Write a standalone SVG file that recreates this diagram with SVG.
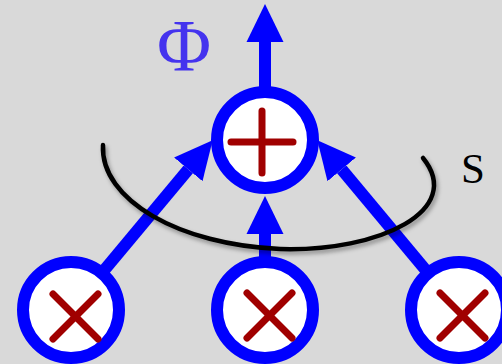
<svg xmlns="http://www.w3.org/2000/svg" width="502" height="364" viewBox="0 0 502 364">
<style>
.shaft{stroke:#0000ff;stroke-width:12;fill:none}
.node{fill:#ffffff;stroke:#0000ff;stroke-width:12}
.mark{stroke:#a00000;stroke-width:7;stroke-linecap:round;fill:none}
.lbl{font-family:"Liberation Serif","Times New Roman",serif}
</style>
<defs>
<marker id="head" markerUnits="userSpaceOnUse" markerWidth="38" markerHeight="38" viewBox="0 -18 37 36" refX="0" refY="0" orient="auto">
<path d="M0,-18 L37,0 L0,18 Z" fill="#0000ff"/>
</marker>
<filter id="shadow" x="-10%" y="-10%" width="120%" height="130%">
<feDropShadow dx="2" dy="3" stdDeviation="2" flood-color="#000" flood-opacity="0.35"/>
</filter>
</defs>
<rect width="502" height="364" fill="#d9d9d9"/>
<g id="connectors">
<line class="shaft" x1="265" y1="140" x2="265" y2="42" marker-end="url(#head)"/>
<line class="shaft" x1="265" y1="310" x2="265" y2="234" marker-end="url(#head)"/>
<line class="shaft" x1="71" y1="310" x2="188.3" y2="169.4" marker-end="url(#head)"/>
<line class="shaft" x1="459" y1="310" x2="341.7" y2="169.4" marker-end="url(#head)"/>
</g>
<g id="sum">
<circle class="node" cx="265" cy="140" r="48"/>
<line class="mark" x1="231" y1="142" x2="293" y2="142"/>
<line class="mark" x1="262" y1="111" x2="262" y2="173"/>
</g>
<g id="mult1">
<circle class="node" cx="71" cy="310" r="48"/>
<line class="mark" x1="53" y1="294" x2="98" y2="339"/>
<line class="mark" x1="98" y1="294" x2="53" y2="339"/>
</g>
<g id="mult2">
<circle class="node" cx="265" cy="310" r="48"/>
<line class="mark" x1="247" y1="293" x2="292" y2="338"/>
<line class="mark" x1="292" y1="293" x2="247" y2="338"/>
</g>
<g id="mult3">
<circle class="node" cx="459" cy="310" r="48"/>
<line class="mark" x1="440" y1="293" x2="485" y2="338"/>
<line class="mark" x1="485" y1="293" x2="440" y2="338"/>
</g>
<g id="surface">
<path d="M103,145 C100,200 180,245 280,249 C380,252 465,210 423,158" fill="none" stroke="#000" stroke-width="4.5" stroke-linecap="round" filter="url(#shadow)"/>
</g>
<g id="labels">
<text class="lbl" x="184" y="71" font-size="74" fill="#4433ee" text-anchor="middle">Φ</text>
<text class="lbl" x="473" y="183" font-size="43" fill="#000" text-anchor="middle">S</text>
</g>
</svg>
